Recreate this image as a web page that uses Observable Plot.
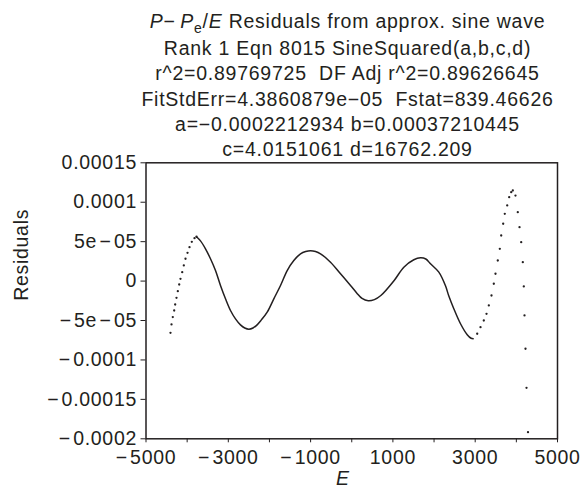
<!DOCTYPE html>
<html><head><meta charset="utf-8">
<script src="https://cdn.jsdelivr.net/npm/d3@7"></script>
<script src="https://cdn.jsdelivr.net/npm/@observablehq/plot@0.6"></script>
<style>
body{margin:0;background:#fff;font-family:"Liberation Sans",Arial,sans-serif;color:#231f20;}
#title{width:587px;height:150px;box-sizing:border-box;padding-top:9px;padding-left:108px;text-align:center;font-size:19.5px;letter-spacing:0.75px;line-height:25.2px;white-space:nowrap;}
#title .sub{font-size:14px;position:relative;top:5px;}
svg{display:block}
</style></head><body>
<div id="title">
<div><i>P</i>−&#8201;<i>P</i><span class="sub">e</span>/<i>E</i> Residuals from approx. sine wave</div>
<div>Rank 1 Eqn 8015 SineSquared(a,b,c,d)</div>
<div>r^2=0.89769725&nbsp; DF Adj r^2=0.89626645</div>
<div>FitStdErr=4.3860879e−05&nbsp; Fstat=839.46626</div>
<div>a=−0.0002212934 b=0.00037210445</div>
<div>c=4.0151061 d=16762.209</div>
</div>
<div id="chart"></div>
<script>
// sparse dots, left rising branch
const leftE = [-4405,-4380,-4349,-4315,-4291,-4259,-4227,-4193,-4162,-4120,-4081,-4040,-3991,-3943,-3887,-3821,-3773];
const leftR = [-6.56e-5,-5.50e-5,-4.57e-5,-3.73e-5,-2.97e-5,-2.12e-5,-1.28e-5,-0.43e-5,0.29e-5,1.13e-5,1.98e-5,2.83e-5,3.59e-5,4.30e-5,4.98e-5,5.44e-5,5.62e-5];
// dense middle part
const midE = [-3773,-3676,-3554,-3433,-3311,-3190,-3068,-2947,-2825,-2704,-2600,-2500,-2400,-2300,-2200,-2055,-1894,-1731,-1569,-1408,-1245,-1120,-1002,-880,-759,-516,-273,-30,120,250,400,550,707,1031,1266,1508,1671,1800,1914,2116,2278,2359,2480,2643,2806,2900,2951];
const midR = [5.62e-5,5.10e-5,4.09e-5,2.83e-5,1.34e-5,-0.56e-5,-2.25e-5,-3.73e-5,-4.79e-5,-5.55e-5,-5.95e-5,-6.10e-5,-5.95e-5,-5.55e-5,-4.95e-5,-3.94e-5,-2.25e-5,-0.56e-5,1.34e-5,2.61e-5,3.46e-5,3.75e-5,3.85e-5,3.75e-5,3.46e-5,2.40e-5,0.93e-5,-0.56e-5,-1.50e-5,-2.20e-5,-2.50e-5,-2.35e-5,-1.83e-5,0.08e-5,1.76e-5,2.70e-5,2.95e-5,2.80e-5,2.19e-5,1.13e-5,-0.60e-5,-1.90e-5,-3.50e-5,-5.41e-5,-6.80e-5,-7.25e-5,-7.30e-5];
// sparse dots, right branch
const rightE = [3049,3129,3209,3275,3331,3396,3452,3493,3549,3598,3632,3680,3719,3778,3826,3875,3914,3979,4035,4077,4118,4157,4181,4198,4222,4247,4283];
const rightR = [-6.68e-5,-5.84e-5,-5.00e-5,-4.15e-5,-3.09e-5,-1.83e-5,-0.34e-5,0.93e-5,2.61e-5,4.09e-5,5.78e-5,7.27e-5,8.53e-5,9.59e-5,10.64e-5,11.27e-5,11.49e-5,10.85e-5,8.74e-5,6.84e-5,4.93e-5,2.40e-5,-0.68e-5,-4.36e-5,-8.58e-5,-13.53e-5,-19.16e-5];

const xTicks = [-5000,-4000,-3000,-2000,-1000,0,1000,2000,3000,4000,5000];
const xTickLabels = ["−\u200a5000","","−\u200a3000","","−\u200a1000","","1000","","3000","","5000"];
const yTicks = [-0.0002,-0.00015,-0.0001,-0.00005,0,0.00005,0.0001,0.00015];
const yTickLabels = ["−\u200a0.0002","−\u200a0.00015","−\u200a0.0001","−\u200a5e\u200a−\u200a05","0","5e\u200a−\u200a05","0.0001","0.00015"];

const ink = "#231f20";
const xLab = new Map(xTicks.map((t,i)=>[t,xTickLabels[i]]));
const yLab = new Map(yTicks.map((t,i)=>[t,yTickLabels[i]]));
const dots = [...leftE.map((e,i)=>({e, r:leftR[i]})), ...rightE.map((e,i)=>({e, r:rightR[i]}))];
const mid = midE.map((e,i)=>({e, r:midR[i]}));

const chart = Plot.plot({
  width: 587, height: 344,
  marginTop: 12.3, marginBottom: 55.7, marginLeft: 145.5, marginRight: 30,
  style: {fontSize: "19.5px", letterSpacing: "0.7px", fontFamily: '"Liberation Sans", Arial, sans-serif', color: ink, background: "#fff", overflow: "visible"},
  x: {domain: [-5000,5000], ticks: xTicks, tickFormat: d => xLab.get(d) ?? "", tickSize: 4, tickPadding: 7, label: null},
  y: {domain: [-0.0002,0.00015], ticks: yTicks, tickFormat: d => yLab.get(d) ?? "", tickSize: 5, tickPadding: 4, label: null},
  marks: [
    Plot.frame({stroke: ink, strokeWidth: 1.5}),
    Plot.line(mid, {x: "e", y: "r", curve: "catmull-rom", stroke: ink, strokeWidth: 1.5}),
    Plot.dot(dots, {x: "e", y: "r", r: 1.15, fill: ink, stroke: null}),
    Plot.text(["Residuals"], {frameAnchor: "left", dx: -124.5, rotate: -90, fontSize: 19.5, fill: ink, text: d => d}),
    Plot.text(["E"], {frameAnchor: "bottom", dx: -9, dy: 46, fontSize: 19.5, fontStyle: "italic", fill: ink, text: d => d})
  ]
});
document.getElementById("chart").appendChild(chart);
</script>
</body></html>
